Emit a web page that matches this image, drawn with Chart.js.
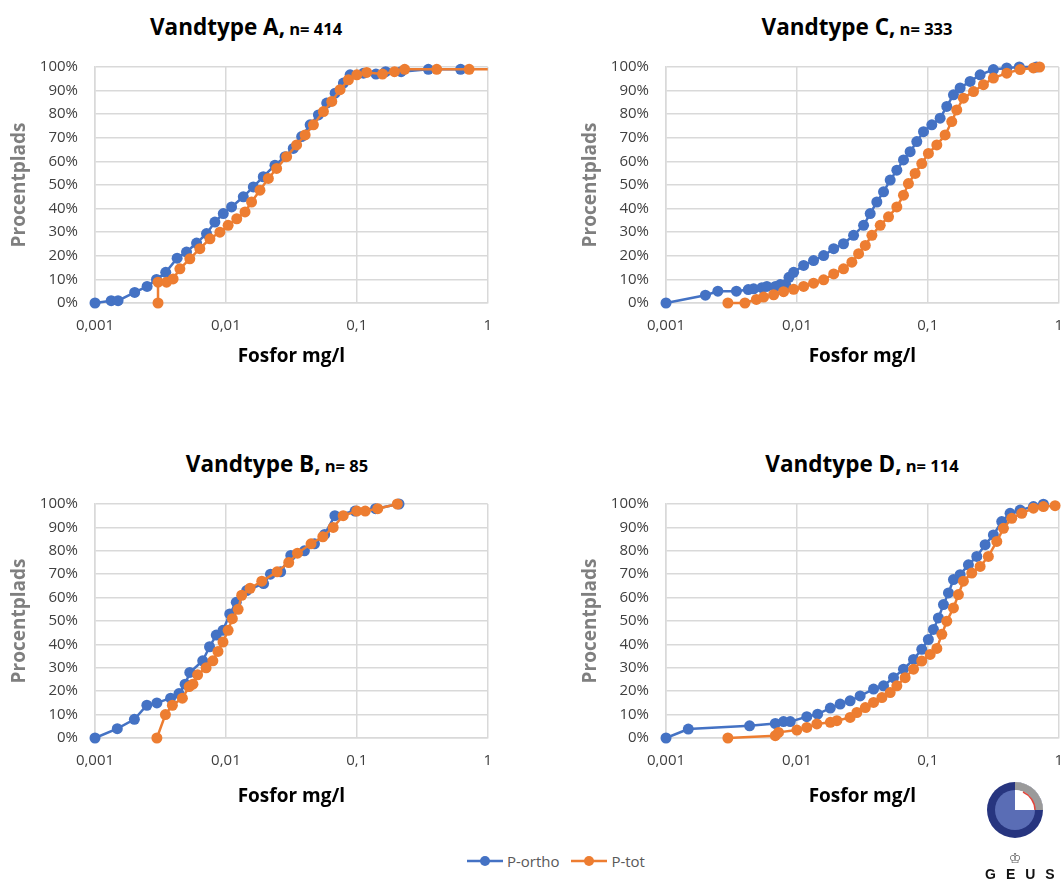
<!DOCTYPE html>
<html>
<head>
<meta charset="utf-8">
<script src="https://cdn.jsdelivr.net/npm/chart.js@4.4.1/dist/chart.umd.min.js"></script>
<style>
  body { margin: 0; width: 1062px; height: 880px; background: #fff; position: relative; overflow: hidden; font-family: "Open Sans", sans-serif; }
  canvas { position: absolute; }
  .title { position: absolute; font-weight: bold; color: #000; white-space: nowrap; transform: translateX(-50%); }
  .title .big { font-size: 22.5px; }
  .title .small { font-size: 16.5px; }
  .legend { position: absolute; left: 467px; top: 851px; font-size: 15px; color: #595959; display: flex; align-items: center; }
  .legend span { margin-right: 12px; display: flex; align-items: center; }
  .logo { position: absolute; left: 975px; top: 780px; width: 80px; text-align: center; }
  .geus { font-family: "Liberation Sans", sans-serif; font-weight: bold; font-size: 14px; letter-spacing: 10px; color: #111; margin-left: 10px; line-height: 16px; }
</style>
</head>
<body>

<div class="title" style="left:246px; top:11px"><span class="big">Vandtype A,</span> <span class="small">n= 414</span></div>
<div class="title" style="left:857px; top:11px"><span class="big">Vandtype C,</span> <span class="small">n= 333</span></div>
<div class="title" style="left:277px; top:448px"><span class="big">Vandtype B,</span> <span class="small">n= 85</span></div>
<div class="title" style="left:862px; top:448px"><span class="big">Vandtype D,</span> <span class="small">n= 114</span></div>

<canvas id="chartA" width="506" height="339" style="left:0; top:41px"></canvas>
<canvas id="chartC" width="506" height="339" style="left:571px; top:41px"></canvas>
<canvas id="chartB" width="506" height="342" style="left:0; top:478px"></canvas>
<canvas id="chartD" width="506" height="342" style="left:571px; top:478px"></canvas>

<div class="legend">
  <span><svg width="36" height="12"><line x1="0" y1="6" x2="36" y2="6" stroke="#4472C4" stroke-width="2.5"/><circle cx="18" cy="6" r="5" fill="#4472C4"/></svg>&nbsp;P-ortho</span>
  <span><svg width="36" height="12"><line x1="0" y1="6" x2="36" y2="6" stroke="#ED7D31" stroke-width="2.5"/><circle cx="18" cy="6" r="5" fill="#ED7D31"/></svg>&nbsp;P-tot</span>
</div>

<div class="logo">
  <svg width="80" height="62" viewBox="0 0 80 62">
    <circle cx="40" cy="30" r="28" fill="#27357F"/>
    <circle cx="40" cy="30" r="20" fill="#5A6DB5"/>
    <path d="M40 30 L40 2 A28 28 0 0 1 68 30 Z" fill="#fff"/>
    <path d="M40 2 A28 28 0 0 1 68 30 L60 30 A20 20 0 0 0 40 10 Z" fill="#9a9a9a"/>
    <path d="M40 30 L40 10 A20 20 0 0 1 60 30 Z" fill="#fff"/>
    <path d="M48 12 A20 20 0 0 1 60 30" fill="none" stroke="#e0463c" stroke-width="1.5"/>
  </svg>
  <div style="font-family:'DejaVu Sans'; font-size:14px; color:#555; line-height:16px; margin-top:3px">♔</div>
  <div class="geus">GEUS</div>
</div>

<script>
// axis ticks
const xTicks = [0.001, 0.01, 0.1, 1];
const xTickLabels = ['0,001', '0,01', '0,1', '1'];

// Vandtype A
const aOrthoX = [0.001,0.00133,0.0015,0.00201,0.0025,0.00295,0.00347,0.00424,0.005,0.00597,0.00711,0.00824,0.00955,0.01105,0.01358,0.0162,0.0193,0.0237,0.0283,0.0327,0.0379,0.044,0.0509,0.0589,0.0683,0.079,0.0889,0.1125,0.14,0.166,0.218,0.352,0.621];
const aOrthoY = [0,1,1,4.5,7,10,13,19,21.6,25.4,29.4,34.3,37.9,40.7,45,49.2,53.5,58.4,62,65.5,70.5,75.5,79.7,84.7,88.9,93.2,96.7,97.4,97,98,98,99,99];
const aTotX = [0.00303,0.00303,0.00352,0.00395,0.00445,0.0053,0.00632,0.00755,0.009,0.0104,0.0121,0.014,0.0157,0.0182,0.0211,0.0244,0.0291,0.0347,0.0403,0.0466,0.0556,0.0644,0.0745,0.0863,0.1,0.119,0.157,0.194,0.232,0.408,0.721,1];
const aTotY = [0,8.8,8.8,10.2,14.5,18.7,23,27.2,30,32.9,35.7,38.6,42.8,47.8,52.8,57,62,67,71.2,75.5,81.1,85.4,90.4,94.6,96.7,97.7,97,98,99,99,99,99];

// Vandtype C
const cOrthoX = [0.001,0.002,0.00249,0.00345,0.00425,0.00467,0.0054,0.0059,0.00685,0.00746,0.0082,0.0087,0.00944,0.01125,0.0134,0.016,0.0191,0.0227,0.0271,0.0323,0.0363,0.0408,0.0459,0.0516,0.058,0.0652,0.0733,0.0824,0.0927,0.1073,0.1242,0.1396,0.157,0.1766,0.2105,0.251,0.317,0.401,0.5,0.676];
const cOrthoY = [0,3.3,5,5,5.7,6,6.5,7,7,7.8,7.8,10.9,13,15.9,18,20.1,23,25.1,28.7,32.9,37.9,42.8,47.1,52.1,56.3,60.6,64.1,68.4,72.6,75.5,78.3,83.3,88.2,91.1,93.9,96.7,98.9,99.6,100,100];
const cTotX = [0.00297,0.00401,0.0049,0.00557,0.00664,0.00791,0.00944,0.01125,0.0134,0.016,0.0191,0.0227,0.0263,0.0296,0.0333,0.0374,0.0433,0.0501,0.058,0.0652,0.0711,0.08,0.0899,0.1011,0.1172,0.1356,0.1524,0.1664,0.187,0.2234,0.266,0.317,0.401,0.507,0.641,0.714];
const cTotY = [0,0,1.5,2.5,3.5,4.8,5.8,7,8.4,9.8,12.3,14.5,17.3,20.9,24.4,28.7,32.9,36.5,40.7,45.7,50.6,54.9,59.1,63.4,67,71.2,76.9,81.8,86.8,89.6,92.5,95.3,97.4,98.9,99.6,100];

// Vandtype B
const bOrthoX = [0.001,0.00148,0.002,0.00249,0.00297,0.00378,0.00438,0.00488,0.0053,0.00665,0.0075,0.00844,0.0095,0.0107,0.012,0.0144,0.0194,0.0219,0.0262,0.0313,0.0398,0.0475,0.0568,0.068,0.097,0.139,0.21];
const bOrthoY = [0,4,8,14,15,17,19,23,28,33,39,44,46,53,58,63,66,70,71,78,80,83,87,95,97,98,100];
const bTotX = [0.00297,0.00345,0.0039,0.00465,0.00524,0.0056,0.00608,0.00706,0.00795,0.0087,0.0095,0.0104,0.0112,0.0124,0.0132,0.0153,0.0188,0.0246,0.0302,0.0352,0.0447,0.055,0.066,0.0787,0.1,0.116,0.1445,0.204];
const bTotY = [0,10,14,17,22,23,27,30,33,37,41,46,51,55,61,64,67,71,75,79,83,86,90,95,97,97,98,100];

// Vandtype D
const dOrthoX = [0.001,0.00148,0.00435,0.00684,0.0079,0.0089,0.0119,0.0144,0.018,0.0214,0.0255,0.0304,0.0385,0.0459,0.0547,0.0652,0.0778,0.0899,0.101,0.1104,0.1205,0.1317,0.1438,0.157,0.1766,0.2043,0.2366,0.274,0.317,0.367,0.425,0.507,0.641,0.764];
const dOrthoY = [0,3.8,5.2,6.2,7,7,9.1,10.2,12.8,14.5,15.9,18,20.9,22.3,25.8,29.4,33.6,37.9,42.1,46.4,51.3,57,62,67.7,69.8,74,77.6,82.6,86.8,92.5,96,97.4,98.9,99.9];
const dTotX = [0.00297,0.00684,0.00724,0.01,0.0119,0.0142,0.018,0.0202,0.0255,0.0287,0.0333,0.0385,0.0446,0.0516,0.058,0.0671,0.0778,0.0899,0.1042,0.1172,0.128,0.1396,0.157,0.1714,0.187,0.2166,0.251,0.29,0.3365,0.3784,0.4378,0.522,0.641,0.764,0.938,1];
const dTotY = [0,1,2.4,3.4,4.5,6,6.7,7.4,8.8,10.9,13,15.2,17.3,19.4,22.3,25.8,29.4,32.9,35.7,38.3,44.3,49.9,55.6,61.3,67,70.5,73.3,77.6,84,89.6,93.9,96,98.2,98.9,99.3,99.3];

const BLUE = '#4472C4';
const ORANGE = '#ED7D31';
const GRID = '#d9d9d9';

function toPoints(xs, ys) {
  return xs.map((x, i) => ({x: x, y: ys[i]}));
}

function series(label, xs, ys, color, order) {
  return {
    label: label,
    data: toPoints(xs, ys),
    showLine: true,
    borderColor: color,
    backgroundColor: color,
    borderWidth: 2.5,
    // no marker on the line end that runs to the axis edge
    pointRadius: ctx => (ctx.raw && ctx.raw.x >= 1 ? 0 : 5.5),
    pointBorderWidth: 0,
    pointBackgroundColor: color,
    clip: 8,
    order: order
  };
}

// note: chart.js adds the tick padding to the plot-area inset,
// so the canvases are sized/placed with that in mind
function makeChart(id, xAxisHeight, orthoX, orthoY, totX, totY) {
  const ctx = document.getElementById(id).getContext('2d');
  return new Chart(ctx, {
    type: 'scatter',
    data: {
      datasets: [
        series('P-ortho', orthoX, orthoY, BLUE, 1),
        series('P-tot', totX, totY, ORANGE, 0)
      ]
    },
    options: {
      responsive: false,
      animation: false,
      layout: { padding: 0 },
      plugins: { legend: { display: false }, tooltip: { enabled: false } },
      scales: {
        x: {
          type: 'logarithmic',
          min: 0.001,
          max: 1,
          afterBuildTicks: scale => { scale.ticks = xTicks.map(v => ({value: v})); },
          afterFit: scale => { scale.height = xAxisHeight; },
          ticks: {
            autoSkip: false,
            maxRotation: 0,
            padding: 14,
            color: '#404040',
            font: { family: 'Open Sans', size: 15 },
            callback: v => xTickLabels[xTicks.indexOf(v)] || ''
          },
          grid: { color: GRID, lineWidth: 1.5, drawTicks: false },
          border: { color: GRID, width: 1.5 },
          title: {
            display: true,
            text: 'Fosfor mg/l',
            color: '#000',
            font: { family: 'Open Sans', size: 19, weight: 'bold' },
            padding: { top: 12, bottom: 12 }
          }
        },
        y: {
          min: 0,
          max: 100,
          afterFit: scale => { scale.width = 95; },
          ticks: {
            stepSize: 10,
            padding: 17,
            color: '#404040',
            font: { family: 'Open Sans', size: 15 },
            callback: v => v + '%'
          },
          grid: { color: GRID, lineWidth: 1.5, drawTicks: false },
          border: { color: GRID, width: 1.5 },
          title: {
            display: true,
            text: 'Procentplads',
            color: '#7f7f7f',
            font: { family: 'Open Sans', size: 19, weight: 'bold' },
            padding: { top: 8, bottom: 8 }
          }
        }
      }
    }
  });
}

makeChart('chartA', 77, aOrthoX, aOrthoY, aTotX, aTotY);
makeChart('chartC', 77, cOrthoX, cOrthoY, cTotX, cTotY);
makeChart('chartB', 82, bOrthoX, bOrthoY, bTotX, bTotY);
makeChart('chartD', 82, dOrthoX, dOrthoY, dTotX, dTotY);
</script>
</body>
</html>
